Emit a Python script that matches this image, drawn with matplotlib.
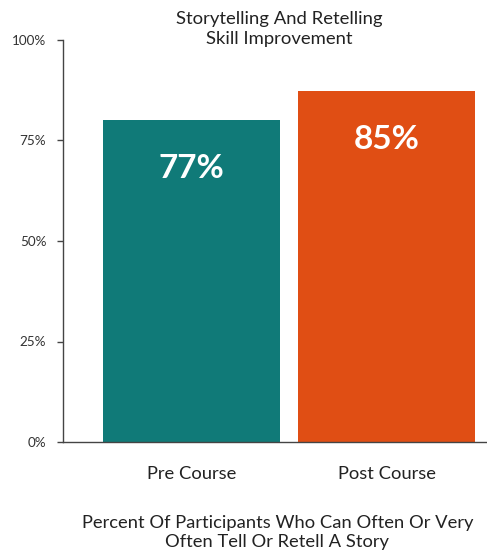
import matplotlib
matplotlib.use("Agg")
import matplotlib.pyplot as plt

categories = ["Pre Course", "Post Course"]
bar_heights = [80.1, 87.3]
bar_labels = ["77%", "85%"]
colors = ["#107a78", "#e04e14"]
yticks = [0, 25, 50, 75, 100]
ytick_labels = ["0%", "25%", "50%", "75%", "100%"]

plt.rcParams['font.family'] = ['Lato', 'DejaVu Sans']

fig = plt.figure(figsize=(4.87, 5.54), dpi=100)
ax = fig.add_axes([63/487, 112/554, (487-63)/487 + 0.01, 402/554])

x = list(range(len(categories)))
bars = ax.bar(x, bar_heights, width=0.908, color=colors, zorder=2)
for b, lab in zip(bars, bar_labels):
    ax.annotate(lab, (b.get_x() + b.get_width()/2, b.get_height()),
                xytext=(0, -35), textcoords="offset points",
                ha="center", va="center", color="white",
                fontsize=24, fontweight="bold")

ax.set_xlim(-0.659, 1.54)
ax.set_ylim(0, 100)
ax.set_yticks(yticks)
ax.set_yticklabels(ytick_labels)
ax.set_xticks(x)
ax.set_xticklabels(categories)

for s in ["top", "right"]:
    ax.spines[s].set_visible(False)
for s in ["left", "bottom"]:
    ax.spines[s].set_color("#444444")
    ax.spines[s].set_linewidth(1.0)

ax.tick_params(axis="y", length=4, width=1, color="#444444", labelsize=9.7,
               labelcolor="#333333", pad=8)
ax.tick_params(axis="x", length=0, labelsize=13.2, labelcolor="#222222", pad=17)

ax.set_xlabel("Percent Of Participants Who Can Often Or Very\nOften Tell Or Retell A Story",
              fontsize=13.2, color="#222222", labelpad=24, linespacing=1.25)

fig.text(279/487, 1 - 29/554, "Storytelling And Retelling\nSkill Improvement",
         ha="center", va="center", fontsize=13.3, color="#222222", linespacing=1.3)

fig.savefig("out.png", dpi=100)
